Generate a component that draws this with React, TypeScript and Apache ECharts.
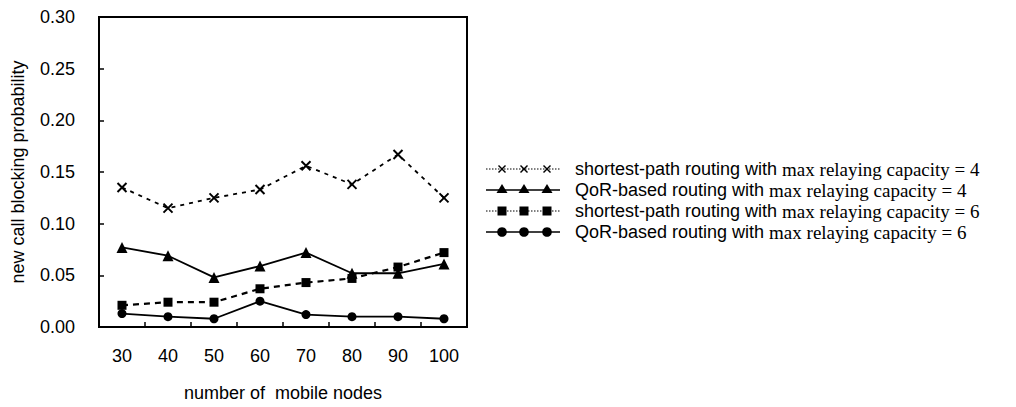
import React, { useEffect, useRef } from "react";
import * as echarts from "echarts";

const categories = ["30", "40", "50", "60", "70", "80", "90", "100"];
const spCap4 = [0.135, 0.115, 0.125, 0.133, 0.156, 0.138, 0.167, 0.125];
const qorCap4 = [0.077, 0.069, 0.048, 0.059, 0.072, 0.052, 0.052, 0.061];
const spCap6 = [0.021, 0.024, 0.024, 0.037, 0.043, 0.047, 0.058, 0.072];
const qorCap6 = [0.013, 0.010, 0.008, 0.025, 0.012, 0.010, 0.010, 0.008];
const namePrefix = [
  "shortest-path routing with ",
  "QoR-based routing with ",
  "shortest-path routing with ",
  "QoR-based routing with ",
];
const nameSuffix = [
  "max relaying capacity = 4",
  "max relaying capacity = 4",
  "max relaying capacity = 6",
  "max relaying capacity = 6",
];
const seriesNames = namePrefix.map((p, i) => p + nameSuffix[i]);
const yTicks = ["0.00", "0.05", "0.10", "0.15", "0.20", "0.25", "0.30"];

const CROSS = "path://M0,0L10,10M10,0L0,10";

export default function App() {
  const ref = useRef<HTMLDivElement>(null);
  useEffect(() => {
    if (!ref.current) return;
    const chart = echarts.init(ref.current, null, { renderer: "svg" });
    const sans = "'Liberation Sans', Arial, sans-serif";
    const serif = "'Liberation Serif', 'Times New Roman', serif";

    const seriesData = [spCap4, qorCap4, spCap6, qorCap6];
    const symbols = [CROSS, "triangle", "rect", "circle"];
    const symbolSizes = [9, 11, 9, 9];
    const lineTypes: any[] = [[4, 5], "solid", [6, 5], "solid"];
    const lineWidths = [1.8, 1.8, 2.2, 1.8];

    const series = seriesData.map((d, i) => ({
      name: seriesNames[i],
      type: "line",
      data: d,
      symbol: symbols[i],
      symbolSize: symbolSizes[i],
      showSymbol: true,
      lineStyle: { color: "#000", width: lineWidths[i], type: lineTypes[i] },
      itemStyle:
        i === 0
          ? { color: "#000", borderColor: "#000", borderWidth: 2 }
          : { color: "#000", borderColor: "#000", borderWidth: 0 },
      z: 3,
    }));

    // legend drawn as graphics
    const rowY = [169, 190, 211, 232];
    const lx0 = 486;
    const lx1 = 560;
    const mks = [502, 524, 547];
    const graphics: any[] = [];
    rowY.forEach((y, i) => {
      const dotted = i === 0 || i === 2;
      graphics.push({
        type: "line",
        shape: { x1: lx0, y1: y, x2: lx1, y2: y },
        style: {
          stroke: "#000",
          lineWidth: dotted ? 1 : 1.6,
          lineDash: dotted ? [1.5, 1.5] : null,
        },
      });
      mks.forEach((mx) => {
        if (i === 0) {
          graphics.push({
            type: "line",
            shape: { x1: mx - 3.5, y1: y - 3.5, x2: mx + 3.5, y2: y + 3.5 },
            style: { stroke: "#000", lineWidth: 1.4 },
          });
          graphics.push({
            type: "line",
            shape: { x1: mx + 3.5, y1: y - 3.5, x2: mx - 3.5, y2: y + 3.5 },
            style: { stroke: "#000", lineWidth: 1.4 },
          });
        } else if (i === 1) {
          graphics.push({
            type: "polygon",
            shape: { points: [[mx, y - 6], [mx - 5.5, y + 3], [mx + 5.5, y + 3]] },
            style: { fill: "#000" },
          });
        } else if (i === 2) {
          graphics.push({
            type: "rect",
            shape: { x: mx - 4.5, y: y - 4.5, width: 9, height: 9 },
            style: { fill: "#000" },
          });
        } else {
          graphics.push({
            type: "circle",
            shape: { cx: mx, cy: y, r: 4.8 },
            style: { fill: "#000" },
          });
        }
      });
      graphics.push({
        type: "text",
        x: 575,
        y: y,
        style: {
          text: `{a|${namePrefix[i]}}{b|${nameSuffix[i]}}`,
          verticalAlign: "middle",
          align: "left",
          fill: "#000",
          rich: {
            a: { fontFamily: sans, fontSize: 18, lineHeight: 19, fill: "#000" },
            b: { fontFamily: serif, fontSize: 19, lineHeight: 19, fill: "#000" },
          },
        },
      });
    });

    chart.setOption({
      animation: false,
      backgroundColor: "#fff",
      grid: {
        left: 99,
        right: 549,
        top: 17,
        bottom: 78,
        show: true,
        borderColor: "#000",
        borderWidth: 2,
        backgroundColor: "transparent",
      },
      xAxis: {
        type: "category",
        data: categories,
        boundaryGap: true,
        name: "number of  mobile nodes",
        nameLocation: "middle",
        nameGap: 57,
        nameTextStyle: { fontFamily: sans, fontSize: 18, color: "#000" },
        axisLine: { show: true, lineStyle: { color: "#000", width: 2 } },
        axisTick: { show: true, inside: true, length: 5, lineStyle: { color: "#000", width: 1.5 } },
        axisLabel: { fontFamily: sans, fontSize: 18, color: "#000", margin: 20 },
        splitLine: { show: false },
      },
      yAxis: {
        type: "value",
        min: 0,
        max: 0.3,
        interval: 0.05,
        name: "new call blocking probability",
        nameLocation: "middle",
        nameGap: 72,
        nameRotate: 90,
        nameTextStyle: { fontFamily: sans, fontSize: 18, color: "#000" },
        axisLine: { show: true, lineStyle: { color: "#000", width: 2 } },
        axisTick: { show: true, inside: true, length: 5, lineStyle: { color: "#000", width: 1.5 } },
        axisLabel: {
          fontFamily: sans,
          fontSize: 18,
          color: "#000",
          margin: 24,
          formatter: (v: number) => yTicks[Math.round(v / 0.05)] ?? v.toFixed(2),
        },
        splitLine: { show: false },
      },
      legend: { show: false },
      series,
      graphic: graphics,
    });
    return () => chart.dispose();
  }, []);
  return (
    <div
      ref={ref}
      style={{ position: "absolute", left: 0, top: 0, width: 1016, height: 407, background: "#fff" }}
    />
  );
}
